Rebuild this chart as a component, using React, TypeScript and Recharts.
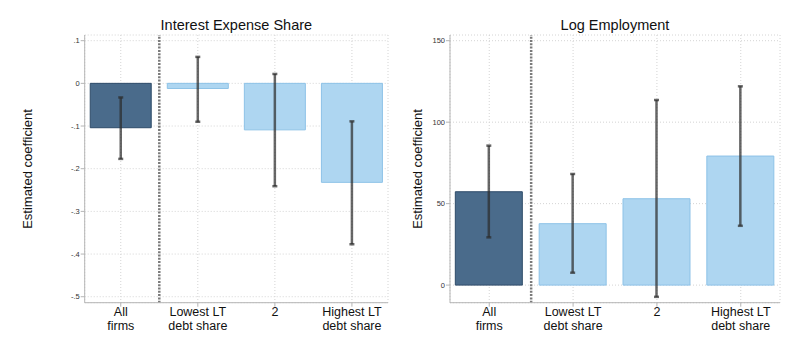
import { ComposedChart, Bar, Cell, ErrorBar, XAxis, YAxis, CartesianGrid, ReferenceLine } from 'recharts'

const categoryLines = [['All', 'firms'], ['Lowest LT', 'debt share'], ['2'], ['Highest LT', 'debt share']]
const categoryIds = [1, 2, 3, 4]

const interestCoef = [-0.104, -0.012, -0.109, -0.232]
const interestLow = [-0.177, -0.09, -0.241, -0.377]
const interestHigh = [-0.033, 0.062, 0.022, -0.089]
const interestTicks = [0.1, 0, -0.1, -0.2, -0.3, -0.4, -0.5]

const employmentCoef = [57.3, 37.7, 53.0, 79.2]
const employmentLow = [29.3, 7.6, -7.2, 36.4]
const employmentHigh = [85.6, 68.2, 113.6, 122.0]
const employmentTicks = [0, 50, 100, 150]

const FONT = '"Liberation Sans", Arial, Helvetica, sans-serif'
const DARK = '#4a6b8b'
const DARK_EDGE = '#2e4b69'
const LIGHT = '#aed6f1'
const LIGHT_EDGE = '#8dc2e7'
const AXIS = '#b5b5b5'

const buildRows = (coef: number[], low: number[], high: number[]) =>
  categoryIds.map((id, i) => ({
    x: id,
    value: coef[i],
    err: [coef[i] - low[i], high[i] - coef[i]],
  }))

// stata style: .1, -.2 ...
const stataNum = (v: number) => {
  if (v === 0) return '0'
  const s = String(Math.round(v * 1000) / 1000)
  return s.replace(/^(-?)0\./, '$1.')
}

function CategoryTick(props: any) {
  const { x, y, payload } = props
  const lines = categoryLines[payload.value - 1] || []
  return (
    <g>
      {lines.map((l, i) => (
        <text
          key={i}
          x={x}
          y={y + 7 + i * 14.4}
          textAnchor="middle"
          fontSize={12.5}
          fill="#111"
          fontFamily={FONT}
        >
          {l}
        </text>
      ))}
    </g>
  )
}

type PanelProps = {
  title: string
  left: number
  width: number
  marginLeft: number
  marginRight: number
  yWidth: number
  labelX: number
  barSize: number
  domain: [number, number]
  ticks: number[]
  rows: { x: number; value: number; err: number[] }[]
  fmt: (v: number) => string
}

function Panel(p: PanelProps) {
  const plotLeft = p.marginLeft + p.yWidth
  const plotRight = p.width - p.marginRight
  return (
    <div style={{ position: 'absolute', left: p.left, top: 0, width: p.width, height: 354 }}>
      <div
        style={{
          position: 'absolute', left: plotLeft, width: plotRight - plotLeft, top: 16.8,
          textAlign: 'center', fontSize: 14.5, lineHeight: '16px', fontFamily: FONT, color: '#111',
        }}
      >
        {p.title}
      </div>
      <ComposedChart
        width={p.width}
        height={354}
        data={p.rows}
        margin={{ top: 35, right: p.marginRight, left: p.marginLeft, bottom: 11.3 }}
      >
        <CartesianGrid stroke="#d4d4d4" strokeDasharray="1 2" />
        <XAxis
          dataKey="x"
          type="number"
          domain={[0.532, 4.468]}
          ticks={categoryIds}
          allowDataOverflow
          height={40}
          tick={<CategoryTick />}
          tickSize={4}
          tickMargin={2}
          axisLine={{ stroke: AXIS }}
          tickLine={{ stroke: AXIS }}
        />
        <YAxis
          type="number"
          domain={p.domain}
          ticks={p.ticks}
          allowDataOverflow
          width={p.yWidth}
          tickFormatter={p.fmt}
          tick={{ fontSize: 7.5, fill: '#333', fontFamily: FONT }}
          tickSize={4}
          tickMargin={1}
          axisLine={{ stroke: AXIS }}
          tickLine={{ stroke: AXIS }}
          label={() => (
            <text
              x={p.labelX}
              y={169}
              transform={`rotate(-90 ${p.labelX} 169)`}
              textAnchor="middle"
              dominantBaseline="central"
              fontSize={13}
              fill="#111"
              fontFamily={FONT}
            >
              Estimated coefficient
            </text>
          )}
        />
        <ReferenceLine x={1.5} stroke="#7a7a7a" strokeWidth={2.5} strokeDasharray="2 1.3" />
        <Bar dataKey="value" barSize={p.barSize} isAnimationActive={false}>
          {p.rows.map((_, i) => (
            <Cell key={i} fill={i === 0 ? DARK : LIGHT} stroke={i === 0 ? DARK_EDGE : LIGHT_EDGE} strokeWidth={1} />
          ))}
          <ErrorBar
            dataKey="err"
            direction="y"
            width={2.5}
            strokeWidth={2.5}
            stroke="rgba(45,45,45,0.72)"
            isAnimationActive={false}
          />
        </Bar>
      </ComposedChart>
    </div>
  )
}

export default function App() {
  return (
    <div style={{ position: 'absolute', left: 0, top: 0, width: 797, height: 354, background: '#fff' }}>
      <Panel
        title="Interest Expense Share"
        left={0}
        width={400}
        marginLeft={24.7}
        marginRight={12}
        yWidth={60}
        labelX={27}
        barSize={61}
        domain={[-0.514, 0.1133]}
        ticks={interestTicks}
        rows={buildRows(interestCoef, interestLow, interestHigh)}
        fmt={stataNum}
      />
      <Panel
        title="Log Employment"
        left={400}
        width={397}
        marginLeft={0}
        marginRight={17}
        yWidth={50}
        labelX={17.5}
        barSize={67}
        domain={[-10.8, 153.5]}
        ticks={employmentTicks}
        rows={buildRows(employmentCoef, employmentLow, employmentHigh)}
        fmt={stataNum}
      />
    </div>
  )
}
